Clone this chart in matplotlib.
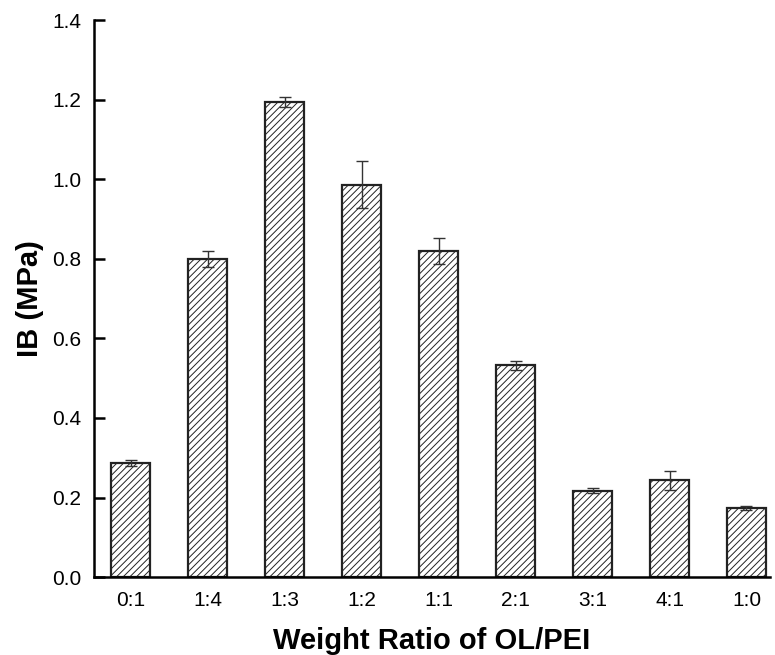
import numpy as np
import matplotlib.pyplot as plt

plt.rcParams['font.family'] = ['Liberation Sans', 'DejaVu Sans']
plt.rcParams['hatch.linewidth'] = 0.7

ratios = ['0:1', '1:4', '1:3', '1:2', '1:1', '2:1', '3:1', '4:1', '1:0']
ib = [0.287, 0.800, 1.195, 0.987, 0.820, 0.532, 0.217, 0.243, 0.173]
err = [0.007, 0.020, 0.012, 0.060, 0.032, 0.012, 0.006, 0.023, 0.005]

fig = plt.figure(figsize=(7.75, 6.55), dpi=100)
ax = fig.add_axes([0.121, 0.119, 0.872, 0.850])

x = np.arange(len(ratios))
ax.bar(x, ib, width=0.5, color='white', edgecolor='#222222', linewidth=1.6,
       hatch='/////', zorder=2)
ax.errorbar(x, ib, yerr=err, fmt='none', ecolor='#333333', elinewidth=1.0,
            capsize=4.5, capthick=1.0, zorder=3)

ax.set_xlim(-0.48, 8.3)
ax.set_ylim(0, 1.4)
ax.set_yticks(np.arange(0, 1.41, 0.2))
ax.set_yticklabels(['%.1f' % v for v in np.arange(0, 1.41, 0.2)])
ax.set_xticks(x)
ax.set_xticklabels(ratios)
ax.spines['top'].set_visible(False)
ax.spines['right'].set_visible(False)
ax.spines['left'].set_linewidth(1.8)
ax.spines['bottom'].set_linewidth(1.8)
ax.tick_params(axis='y', direction='in', length=8, width=1.8, labelsize=15, pad=9)
ax.tick_params(axis='x', length=0, labelsize=15, pad=10)
ax.set_xlabel('Weight Ratio of OL/PEI', fontsize=21, fontweight='bold', labelpad=12)
ax.set_ylabel('IB (MPa)', fontsize=21, fontweight='bold', labelpad=6)

fig.savefig('out.png', dpi=100)
